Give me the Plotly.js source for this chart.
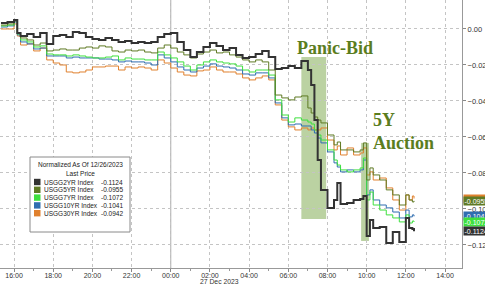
<!DOCTYPE html>
<html><head><meta charset="utf-8">
<script src="https://cdn.plot.ly/plotly-3.0.1.min.js"></script>
<style>html,body{margin:0;padding:0;background:#fff}#c{width:485px;height:286px}</style>
</head><body><div id="c"></div>
<script>
const times = ['2023-12-26 15:20','2023-12-26 15:40','2023-12-26 16:00','2023-12-26 16:10','2023-12-26 16:20','2023-12-26 16:40','2023-12-26 17:00','2023-12-26 17:20','2023-12-26 17:40','2023-12-26 18:00','2023-12-26 18:20','2023-12-26 18:40','2023-12-26 19:00','2023-12-26 19:20','2023-12-26 19:40','2023-12-26 20:00','2023-12-26 20:20','2023-12-26 20:40','2023-12-26 21:00','2023-12-26 21:20','2023-12-26 21:40','2023-12-26 22:00','2023-12-26 22:20','2023-12-26 22:40','2023-12-26 23:00','2023-12-26 23:20','2023-12-26 23:40','2023-12-27 00:00','2023-12-27 00:20','2023-12-27 00:40','2023-12-27 01:00','2023-12-27 01:20','2023-12-27 01:40','2023-12-27 02:00','2023-12-27 02:20','2023-12-27 02:40','2023-12-27 03:00','2023-12-27 03:20','2023-12-27 03:40','2023-12-27 04:00','2023-12-27 04:20','2023-12-27 04:40','2023-12-27 05:00','2023-12-27 05:20','2023-12-27 05:40','2023-12-27 06:00','2023-12-27 06:20','2023-12-27 06:40','2023-12-27 07:00','2023-12-27 07:10','2023-12-27 07:20','2023-12-27 07:30','2023-12-27 07:40','2023-12-27 08:00','2023-12-27 08:20','2023-12-27 08:30','2023-12-27 08:40','2023-12-27 09:00','2023-12-27 09:20','2023-12-27 09:40','2023-12-27 09:50','2023-12-27 10:00','2023-12-27 10:10','2023-12-27 10:20','2023-12-27 10:40','2023-12-27 11:00','2023-12-27 11:20','2023-12-27 11:40','2023-12-27 12:00','2023-12-27 12:10','2023-12-27 12:20','2023-12-27 12:25'];

const usgg2yr = [0.0033,0.0039,0.0050,-0.0022,-0.0039,-0.0028,-0.0044,-0.0022,-0.0083,-0.0039,
 -0.0033,-0.0044,-0.0017,-0.0022,-0.0044,-0.0056,-0.0061,-0.0050,-0.0061,-0.0072,
 -0.0067,-0.0078,-0.0072,-0.0078,-0.0072,-0.0044,-0.0028,-0.0022,-0.0072,-0.0117,
 -0.0156,-0.0128,-0.0100,-0.0078,-0.0094,-0.0117,-0.0106,-0.0144,-0.0161,-0.0156,
 -0.0139,-0.0122,-0.0156,-0.0222,-0.0217,-0.0206,-0.0217,-0.0178,-0.0228,-0.0311,
 -0.0506,-0.0728,-0.0894,-0.0994,-0.0950,-0.0856,-0.0972,-0.0967,-0.0950,-0.0944,
 -0.0928,-0.1150,-0.1061,-0.1106,-0.1100,-0.1189,-0.1128,-0.1183,-0.1050,-0.1106,
 -0.1111,-0.1124];
const usgg5yr = [0.0022,0.0028,0.0044,-0.0022,-0.0050,-0.0061,-0.0089,-0.0078,-0.0122,-0.0117,
 -0.0111,-0.0117,-0.0117,-0.0106,-0.0100,-0.0106,-0.0094,-0.0100,-0.0122,-0.0128,
 -0.0117,-0.0122,-0.0117,-0.0128,-0.0133,-0.0106,-0.0089,-0.0106,-0.0128,-0.0144,
 -0.0161,-0.0139,-0.0128,-0.0117,-0.0133,-0.0128,-0.0144,-0.0156,-0.0172,-0.0183,
 -0.0172,-0.0183,-0.0228,-0.0367,-0.0383,-0.0394,-0.0378,-0.0372,-0.0439,-0.0467,
 -0.0489,-0.0506,-0.0522,-0.0589,-0.0644,-0.0628,-0.0672,-0.0672,-0.0683,-0.0672,
 -0.0633,-0.0839,-0.0772,-0.0811,-0.0839,-0.0894,-0.0922,-0.0978,-0.0922,-0.0950,
 -0.0961,-0.0955];
const usgg7yr = [0.0017,0.0022,0.0050,-0.0028,-0.0061,-0.0072,-0.0100,-0.0094,-0.0139,-0.0144,
 -0.0144,-0.0150,-0.0144,-0.0150,-0.0156,-0.0161,-0.0161,-0.0156,-0.0150,-0.0172,
 -0.0161,-0.0167,-0.0167,-0.0172,-0.0172,-0.0128,-0.0144,-0.0161,-0.0183,-0.0206,
 -0.0228,-0.0200,-0.0183,-0.0172,-0.0183,-0.0189,-0.0194,-0.0206,-0.0228,-0.0239,
 -0.0228,-0.0228,-0.0256,-0.0394,-0.0478,-0.0517,-0.0494,-0.0506,-0.0517,-0.0528,
 -0.0561,-0.0589,-0.0617,-0.0672,-0.0728,-0.0756,-0.0783,-0.0794,-0.0783,-0.0772,
 -0.0717,-0.0950,-0.0906,-0.0978,-0.1006,-0.1033,-0.1050,-0.1072,-0.1033,-0.1078,
 -0.1067,-0.1072];
const usgg10yr = [0.0011,0.0017,0.0039,-0.0033,-0.0072,-0.0083,-0.0111,-0.0106,-0.0150,-0.0150,
 -0.0150,-0.0161,-0.0156,-0.0161,-0.0161,-0.0161,-0.0167,-0.0167,-0.0172,-0.0183,
 -0.0178,-0.0183,-0.0183,-0.0189,-0.0200,-0.0144,-0.0161,-0.0183,-0.0211,-0.0228,
 -0.0239,-0.0217,-0.0206,-0.0194,-0.0206,-0.0211,-0.0217,-0.0228,-0.0250,-0.0256,
 -0.0244,-0.0244,-0.0272,-0.0411,-0.0494,-0.0533,-0.0528,-0.0539,-0.0539,-0.0561,
 -0.0578,-0.0606,-0.0633,-0.0683,-0.0744,-0.0767,-0.0794,-0.0783,-0.0794,-0.0783,
 -0.0728,-0.0922,-0.0894,-0.0950,-0.0978,-0.0994,-0.1017,-0.1050,-0.1006,-0.1044,
 -0.1033,-0.1041];
const usgg30yr = [0.0000,0.0000,0.0028,-0.0039,-0.0089,-0.0083,-0.0122,-0.0106,-0.0172,-0.0189,
 -0.0200,-0.0239,-0.0244,-0.0239,-0.0228,-0.0211,-0.0211,-0.0206,-0.0206,-0.0228,
 -0.0211,-0.0217,-0.0211,-0.0217,-0.0228,-0.0172,-0.0189,-0.0217,-0.0239,-0.0256,
 -0.0261,-0.0233,-0.0228,-0.0211,-0.0228,-0.0239,-0.0239,-0.0250,-0.0272,-0.0283,
 -0.0272,-0.0261,-0.0283,-0.0422,-0.0506,-0.0544,-0.0561,-0.0550,-0.0561,-0.0550,
 -0.0561,-0.0561,-0.0550,-0.0617,-0.0672,-0.0650,-0.0700,-0.0661,-0.0700,-0.0689,
 -0.0661,-0.0811,-0.0794,-0.0839,-0.0828,-0.0883,-0.0950,-0.1006,-0.0922,-0.0950,
 -0.0928,-0.0942];

const seriesNames = ['USGG2YR Index','USGG5YR Index','USGG7YR Index','USGG10YR Index','USGG30YR Index'];
const lastPrices = [-0.1124,-0.0955,-0.1072,-0.1041,-0.0942];
const legendTitle = ['Normalized As Of 12/26/2023','Last Price'];
const seriesValues = [usgg2yr,usgg5yr,usgg7yr,usgg10yr,usgg30yr];
const colors = ['#333333','#5f7a24','#3ee03e','#2f6db0','#e0812e'];
const widths = [2,1,1,1,1];

const eventLabels = ['Panic-Bid','5Y<br>Auction'];
const eventLabelPos = [['2023-12-27 08:23',-0.0106],['2023-12-27 10:12',-0.0567]];
const eventWindows = [['2023-12-27 06:40','2023-12-27 07:56',-0.0156,-0.1056],['2023-12-27 09:43','2023-12-27 10:07',-0.0633,-0.1178]];

const W = 462, H = 268;
const px = x => x / W, py = y => 1 - y / H;

const order = [4,3,2,1,0];
const traces = order.map(i => ({
  x: times, y: seriesValues[i], type: 'scatter', mode: 'lines', name: seriesNames[i],
  line: {color: colors[i], width: widths[i], shape: 'hv'}, showlegend: false, hoverinfo: 'skip'
}));

const shapes = [];
eventWindows.forEach(w => shapes.push({type:'rect', xref:'x', yref:'y', x0:w[0], x1:w[1], y0:w[2], y1:w[3],
  fillcolor:'rgba(120,165,70,0.5)', line:{width:0}, layer:'below'}));
shapes.push({type:'line', xref:'x', yref:'paper', x0:'2023-12-27 00:00', x1:'2023-12-27 00:00', y0:0, y1:1,
  line:{color:'#a8a8a8', width:1}, layer:'below'});

const annotations = [];
eventLabels.forEach((t,i) => annotations.push({x:eventLabelPos[i][0], y:eventLabelPos[i][1], xref:'x', yref:'y',
  text:t, showarrow:false, xanchor: i===0 ? 'center' : 'left', align:'left',
  font:{family:'Liberation Serif, DejaVu Serif, serif', size:18, color:'#5b7d1e', weight:'bold'}}));

annotations.push({x:'2023-12-27 02:29', y:py(281), xref:'x', yref:'paper', yanchor:'middle', borderpad:0,
  text:'27 Dec 2023', showarrow:false,
  font:{family:'Liberation Sans, Arial, sans-serif', size:6.8, color:'#333'}});

shapes.push({type:'rect', xref:'paper', yref:'paper', x0:px(30), x1:px(130), y0:py(232), y1:py(157),
  fillcolor:'#ffffff', line:{color:'#8a8a8a', width:1}});
const lf = {family:'Liberation Sans, Arial, sans-serif', size:6.5, color:'#222'};
legendTitle.forEach((t,i) => annotations.push({x:px(80), y:py(165 + i*8), xref:'paper', yref:'paper', text:t,
  showarrow:false, xanchor:'center', yanchor:'middle', font:lf}));
seriesNames.forEach((n,i) => {
  const yc = 182 + i*7.8;
  shapes.push({type:'rect', xref:'paper', yref:'paper', x0:px(34), x1:px(40.5), y0:py(yc+3.2), y1:py(yc-3.2),
    fillcolor:colors[i], line:{width:0}});
  annotations.push({x:px(42), y:py(yc), xref:'paper', yref:'paper', text:n, showarrow:false,
    xanchor:'left', yanchor:'middle', font:lf});
  annotations.push({x:px(99), y:py(yc), xref:'paper', yref:'paper', text:lastPrices[i].toFixed(4), showarrow:false,
    xanchor:'left', yanchor:'middle', font:lf});
});

[4,1,3,2,0].forEach(i => annotations.push({x:1, y:lastPrices[i], xref:'paper', yref:'y', xanchor:'left', yanchor:'middle',
  xshift:1, text:lastPrices[i].toFixed(4), showarrow:false, bgcolor:colors[i], borderpad:0.5,
  font:{family:'Liberation Sans, Arial, sans-serif', size:7, color:'#ffffff'}}));

const layout = {
  width:485, height:286, margin:{l:0, r:23, t:0, b:18},
  paper_bgcolor:'#fff', plot_bgcolor:'#fff', showlegend:false,
  xaxis:{type:'date', range:['2023-12-26 15:17','2023-12-27 14:52'], dtick:7200000, tick0:'2023-12-26 16:00',
    tickformat:'%H:%M', ticks:'outside', ticklen:3, tickcolor:'#888', showline:true, linecolor:'#999', linewidth:1,
    ticklabelstandoff:-2,
    showgrid:true, gridcolor:'#c4c4c4', griddash:'dot', gridwidth:1, zeroline:false,
    minor:{dtick:3600000, ticks:'outside', ticklen:2, tickcolor:'#999', showgrid:false},
    tickfont:{family:'Liberation Sans, Arial, sans-serif', size:7, color:'#333'}, fixedrange:true},
  yaxis:{side:'right', range:[-0.1328,0.0161], dtick:0.02, tick0:0, tickformat:'.2f', ticks:'outside', ticklen:3,
    tickcolor:'#888', showline:true, linecolor:'#999', linewidth:1, showgrid:true, gridcolor:'#c4c4c4',
    griddash:'dot', zeroline:false, tickfont:{family:'Liberation Sans, Arial, sans-serif', size:7.5, color:'#333'},
    fixedrange:true},
  shapes: shapes, annotations: annotations
};
Plotly.newPlot('c', traces, layout, {staticPlot:true, displayModeBar:false});
</script></body></html>
